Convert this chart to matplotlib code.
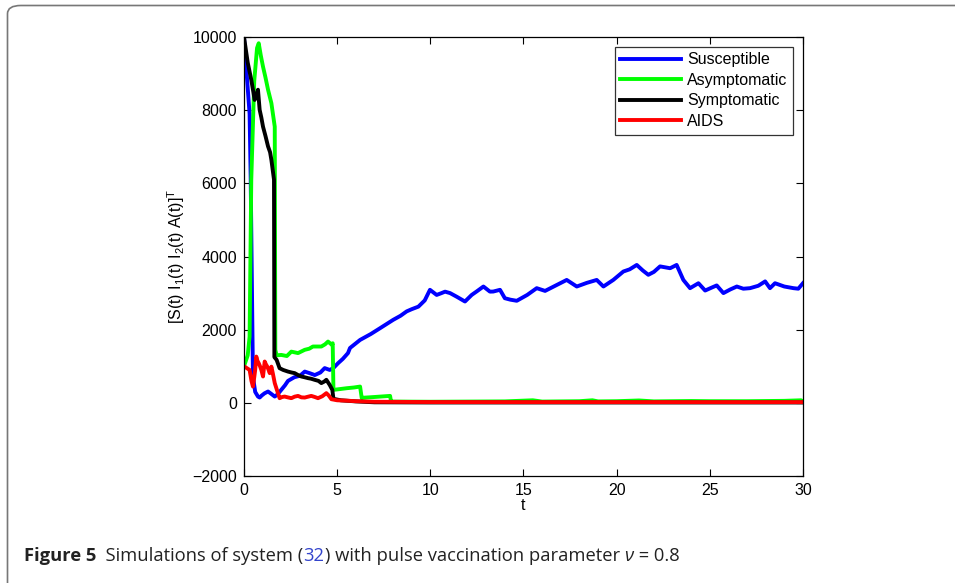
import matplotlib
matplotlib.use("Agg")
import matplotlib.pyplot as plt
from matplotlib.patches import FancyBboxPatch
from matplotlib.lines import Line2D

plt.rcParams["font.family"] = ["Liberation Sans", "DejaVu Sans"]
plt.rcParams["mathtext.fontset"] = "custom"
plt.rcParams["mathtext.rm"] = "Liberation Sans"
plt.rcParams["mathtext.it"] = "Liberation Sans:italic"

# Values (t, population)
t_s = [0, 0.3, 0.36, 0.48, 0.6, 0.75, 0.84, 0.95, 1.1, 1.29, 1.45, 1.65, 1.8, 2.0, 2.2, 2.36,
       2.7, 3.0, 3.26, 3.53, 3.8, 4.1, 4.33, 4.6, 4.79, 5.05, 5.3, 5.58, 5.69, 6.23, 6.8, 7.3,
       8.01, 8.4, 8.73, 9.0, 9.36, 9.7, 9.98, 10.34, 10.6, 10.79, 11.06, 11.42, 11.86, 12.22,
       12.5, 12.85, 13.2, 13.38, 13.74, 14.0, 14.3, 14.64, 15.2, 15.71, 16.16, 16.7, 17.32,
       17.86, 18.4, 18.93, 19.29, 19.82, 20.36, 20.7, 21.08, 21.4, 21.7, 22.0, 22.33, 22.87,
       23.22, 23.58, 23.94, 24.39, 24.75, 25.1, 25.37, 25.73, 26.1, 26.45, 26.8, 27.16, 27.6,
       27.97, 28.23, 28.5, 29.0, 29.49, 29.75, 30]
susceptible = [10000, 7900, 6100, 720, 300, 172, 145, 200, 260, 310, 250, 172, 230, 355, 480, 600,
               700, 740, 855, 810, 760, 830, 950, 900, 948, 1085, 1200, 1360, 1500, 1720, 1880, 2040,
               2270, 2380, 2500, 2560, 2630, 2800, 3090, 2950, 3000, 3040, 3000, 2900, 2770, 2950,
               3050, 3180, 3040, 3043, 3090, 2860, 2820, 2790, 2950, 3135, 3060, 3200, 3360,
               3180, 3280, 3360, 3180, 3360, 3590, 3650, 3770, 3620, 3500, 3580, 3730, 3680,
               3770, 3360, 3135, 3270, 3070, 3150, 3210, 3000, 3100, 3180, 3120, 3135, 3200,
               3320, 3135, 3270, 3180, 3135, 3120, 3270]

t_a = [0, 0.2, 0.3, 0.39, 0.55, 0.7, 0.79, 0.9, 1.02, 1.15, 1.29, 1.47, 1.65, 1.68, 1.75, 2.0,
       2.3, 2.54, 2.9, 3.26, 3.5, 3.7, 4.15, 4.35, 4.51, 4.72, 4.76, 4.8, 5.2, 5.51, 5.9, 6.23,
       6.32, 6.4, 7.0, 7.84, 7.89, 8.0, 10, 12, 14, 15.5, 16, 18, 18.7, 19, 20, 21.2, 22, 24,
       25, 27, 29, 29.9, 30]
asymptomatic = [1000, 1300, 1810, 6100, 8800, 9700, 9830, 9500, 9190, 8900, 8560, 8190, 7550, 1450, 1300, 1310,
                1280, 1400, 1360, 1450, 1480, 1540, 1540, 1600, 1675, 1585, 1630, 355, 380, 400, 420, 445,
                128, 140, 160, 190, 40, 35, 30, 35, 40, 70, 35, 45, 70, 40, 45, 65, 40, 50,
                45, 45, 55, 70, 40]

t_i2 = [0, 0.2, 0.39, 0.5, 0.57, 0.66, 0.75, 0.84, 0.93, 1.02, 1.15, 1.29, 1.4, 1.47, 1.61, 1.63,
        1.75, 1.91, 2.1, 2.36, 2.55, 2.72, 2.9, 3.08, 3.25, 3.44, 3.6, 3.79, 4.0, 4.15, 4.3,
        4.42, 4.6, 4.74, 4.8, 5.2, 6.0, 7.0, 10, 15, 20, 25, 30]
symptomatic = [10000, 9300, 8830, 8500, 8280, 8400, 8560, 8010, 7800, 7550, 7300, 7010, 6850, 6640, 6100, 1250,
               1175, 948, 900, 855, 830, 812, 760, 720, 700, 675, 660, 630, 600, 540, 580,
               630, 490, 355, 110, 70, 40, 15, 10, 10, 10, 10, 10]

t_aids = [0, 0.15, 0.3, 0.4, 0.48, 0.55, 0.6, 0.66, 0.72, 0.79, 0.86, 0.93, 1.02, 1.11, 1.18, 1.25,
          1.32, 1.38, 1.47, 1.55, 1.65, 1.8, 1.91, 2.05, 2.18, 2.35, 2.54, 2.72, 2.9, 3.08,
          3.26, 3.45, 3.61, 3.8, 3.97, 4.2, 4.42, 4.55, 4.69, 5.0, 5.5, 6.0, 7.0, 10, 15, 20,
          25, 30]
aids = [1000, 950, 900, 600, 445, 700, 900, 1265, 1150, 1085, 1000, 900, 720, 1130, 1050, 990,
        900, 812, 990, 800, 540, 300, 128, 160, 172, 150, 128, 170, 190, 150,
        145, 170, 190, 160, 128, 180, 265, 200, 100, 70, 60, 45, 30, 22, 20, 20,
        20, 20]

series_labels = ["Susceptible", "Asymptomatic", "Symptomatic", "AIDS"]
series_colors = ["#0000ff", "#00ff00", "#000000", "#ff0000"]

fig = plt.figure(figsize=(9.55, 5.83), dpi=100)
ax = fig.add_axes([0.2555, 0.1835, 0.5853, 0.753])

lw = 2.8
ax.plot(t_s, susceptible, color=series_colors[0], lw=lw)
ax.plot(t_a, asymptomatic, color=series_colors[1], lw=lw)
ax.plot(t_i2, symptomatic, color=series_colors[2], lw=lw)
ax.plot(t_aids, aids, color=series_colors[3], lw=lw)

ax.set_xlim(0, 30)
ax.set_ylim(-2000, 10000)
ax.set_xticks(range(0, 31, 5))
ax.set_yticks(range(-2000, 10001, 2000))
ax.set_yticklabels(["\u22122000"] + [str(v) for v in range(0, 10001, 2000)])
ax.tick_params(direction="in", length=5, width=0.8, labelsize=11.5, top=True, right=True, pad=5)
for sp in ax.spines.values():
    sp.set_linewidth(0.9)

ax.set_xlabel("t", fontsize=11.5, labelpad=0)
ax.set_ylabel(r"[S(t) I$_1$(t) I$_2$(t) A(t)]$^{\mathrm{T}}$", fontsize=11.5, labelpad=4)

handles = [Line2D([], [], color=c, lw=lw) for c in series_colors]
leg = ax.legend(handles, series_labels, loc="upper right", fontsize=11.5, frameon=True,
                fancybox=False, edgecolor="black", handlelength=3.8, handletextpad=0.4,
                labelspacing=0.35, borderpad=0.35, borderaxespad=0.6)
leg.get_frame().set_linewidth(0.9)

# rounded frame around the figure
frame = FancyBboxPatch((7.5 / 955, -0.05), 1.1, 1 - 5.5 / 583 + 0.05,
                       boxstyle="round,pad=0,rounding_size=0.014",
                       transform=fig.transFigure, fill=False, edgecolor="#777777", lw=1.2)
fig.patches.append(frame)

# caption, pieced together
cap_y = 1 - 556 / 583
parts = [("Figure 5", "bold", "#222222"),
         ("  Simulations of system (", "normal", "#222222"),
         ("32", "normal", "#3344cc"),
         (") with pulse vaccination parameter ", "normal", "#222222"),
         ("\u03bd", "normal", "#222222"),
         (" = 0.8", "normal", "#222222")]
fig.canvas.draw()
renderer = fig.canvas.get_renderer()
x = 24 / 955
for txt, weight, col in parts:
    style = "italic" if txt == "\u03bd" else "normal"
    t = fig.text(x, cap_y, txt, fontsize=13.2, fontweight=weight, color=col, style=style,
                 family=["Open Sans", "DejaVu Sans"], va="center", ha="left")
    bb = t.get_window_extent(renderer)
    x += bb.width / fig.bbox.width

fig.savefig("out.png", dpi=100)
